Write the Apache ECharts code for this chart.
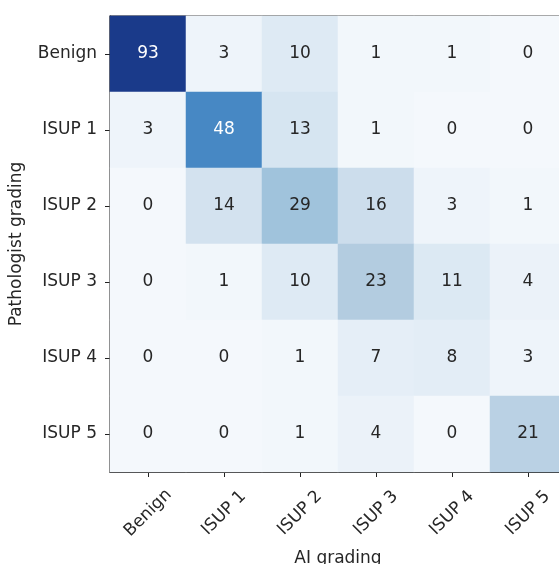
<!DOCTYPE html>
<html>
<head>
<meta charset="utf-8">
<script src="https://cdn.jsdelivr.net/npm/echarts@6/dist/echarts.min.js"></script>
<style>
    html, body { margin: 0; padding: 0; background: #fff; }
    #chart { width: 559px; height: 564px; }
</style>
</head>
<body>
<div id="chart"></div>
<script>
// 类别 (列 = AI, 行 = 病理医生)
const aiGrades = [ 'Benign', 'ISUP 1', 'ISUP 2', 'ISUP 3', 'ISUP 4', 'ISUP 5' ];
const pathGrades = [ 'Benign', 'ISUP 1', 'ISUP 2', 'ISUP 3', 'ISUP 4', 'ISUP 5' ];

// 每行一个病理分级
const rowBenign = [ 93, 3, 10, 1, 1, 0 ];
const rowIsup1 = [ 3, 48, 13, 1, 0, 0 ];
const rowIsup2 = [ 0, 14, 29, 16, 3, 1 ];
const rowIsup3 = [ 0, 1, 10, 23, 11, 4 ];
const rowIsup4 = [ 0, 0, 1, 7, 8, 3 ];
const rowIsup5 = [ 0, 0, 1, 4, 0, 21 ];

const rows = [ rowBenign, rowIsup1, rowIsup2, rowIsup3, rowIsup4, rowIsup5 ];
const maxVal = 93;
const font = 'DejaVu Sans';

let data = [];
rows.forEach( ( row, y ) => {
    row.forEach( ( v, x ) => {
        data.push( {
            value: [ x, y, v ],
            label: { color: v > maxVal / 2 ? '#ffffff' : '#262626' }
        } )
    } )
} )

const chart = echarts.init( document.getElementById( 'chart' ) );
chart.setOption( {
    animation: false,
    textStyle: { fontFamily: font },
    grid: {
        left: 110,
        top: 16,
        width: 456,
        height: 456,
        outerBoundsMode: 'none',
        containLabel: false,
        show: true,
        borderColor: '#222',
        borderWidth: 1.2,
        backgroundColor: 'transparent'
    },
    xAxis: {
        type: 'category',
        data: aiGrades,
        name: 'AI grading',
        nameLocation: 'middle',
        nameGap: 78,
        nameTextStyle: { fontSize: 17, color: '#262626', fontFamily: font },
        axisLine: { show: true, lineStyle: { color: '#222', width: 1.2 } },
        axisTick: { show: true, alignWithLabel: true, length: 5, lineStyle: { color: '#222' } },
        axisLabel: {
            rotate: 45,
            align: 'center',
            verticalAlign: 'middle',
            margin: 41,
            fontSize: 17,
            color: '#262626',
            fontFamily: font
        },
        splitLine: { show: false }
    },
    yAxis: {
        type: 'category',
        data: pathGrades,
        inverse: true,
        name: 'Pathologist grading',
        nameLocation: 'middle',
        nameGap: 85,
        nameTextStyle: { fontSize: 17, color: '#262626', fontFamily: font },
        axisLine: { show: true, lineStyle: { color: '#222', width: 1.2 } },
        axisTick: { show: true, alignWithLabel: true, length: 5, lineStyle: { color: '#222' } },
        axisLabel: { fontSize: 17, margin: 13, color: '#262626', fontFamily: font },
        splitLine: { show: false }
    },
    visualMap: {
        show: false,
        type: 'continuous',
        min: 0,
        max: maxVal,
        dimension: 2,
        inRange: {
            color: [ '#f4f8fc', '#dbe8f3', '#b2cbe0', '#8dbad8', '#4a8cc6', '#3070b3', '#22559f', '#1c4592', '#1a3a8a' ]
        }
    },
    series: [ {
        type: 'heatmap',
        data,
        label: {
            show: true,
            fontSize: 17,
            fontFamily: font
        },
        itemStyle: { borderWidth: 0 },
        emphasis: { disabled: true }
    } ]
} );
</script>
</body>
</html>
